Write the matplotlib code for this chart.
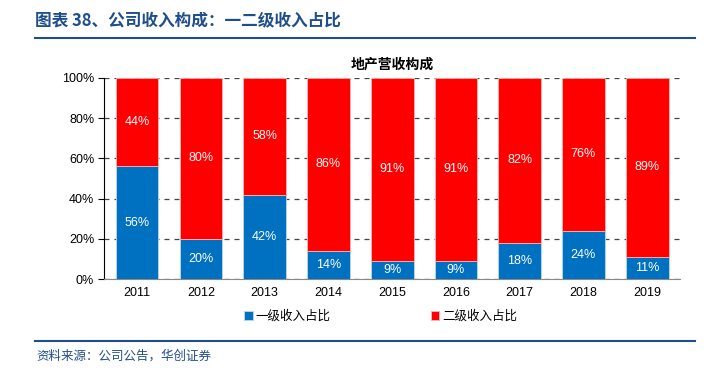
import matplotlib
matplotlib.use("Agg")
import matplotlib.pyplot as plt
import numpy as np

plt.rcParams['font.family'] = ['Liberation Sans', 'Noto Sans CJK SC', 'DejaVu Sans']

years = ['2011', '2012', '2013', '2014', '2015', '2016', '2017', '2018', '2019']
level1 = [56, 20, 42, 14, 9, 9, 18, 24, 11]
level2 = [44, 80, 58, 86, 91, 91, 82, 76, 89]
series_names = ['一级收入占比', '二级收入占比']
blue = '#0070C0'
red = '#FF0000'
navy = '#1F4E8C'

fig = plt.figure(figsize=(7.25, 3.73), dpi=100)
ax = fig.add_axes([0.1434, 0.252, 0.795, 0.539])

x = np.arange(len(years))
w = 0.67
b1 = ax.bar(x, level1, w, color=blue, edgecolor='#BFD7EE', linewidth=0.6, label=series_names[0], zorder=3)
b2 = ax.bar(x, level2, w, bottom=level1, color=red, edgecolor='#F4B6B6', linewidth=0.6, label=series_names[1], zorder=3)

for i in range(len(years)):
    ax.text(x[i], level1[i] / 2, f'{level1[i]}%', ha='center', va='center', color='white', fontsize=9, zorder=4)
    ax.text(x[i], level1[i] + level2[i] / 2, f'{level2[i]}%', ha='center', va='center', color='white', fontsize=9, zorder=4)

ax.set_xlim(-0.52, len(years) - 0.48)
ax.set_ylim(0, 100)
ax.set_yticks(range(0, 101, 20))
ax.set_yticklabels([f'{v}%' for v in range(0, 101, 20)], fontsize=9)
ax.set_xticks(x)
ax.set_xticklabels(years, fontsize=9)
ax.tick_params(axis='x', length=0, pad=6)
ax.tick_params(axis='y', length=4, width=0.8, direction='out', pad=3)
ax.yaxis.grid(True, linestyle=(0, (4, 4)), color='#444444', linewidth=0.9, zorder=0)
for s in ['top', 'right']:
    ax.spines[s].set_visible(False)
ax.spines['left'].set_color('black')
ax.spines['bottom'].set_color('#888888')

ax.set_title('地产营收构成', fontsize=10, fontweight='bold', family=['Noto Sans CJK SC'], pad=7)

leg = fig.legend(handles=[b1, b2], labels=series_names, loc='center', bbox_to_anchor=(0.525, 0.152),
                 ncol=2, frameon=False, handlelength=0.7, handleheight=0.7,
                 handletextpad=0.2, columnspacing=8, prop={'family': ['Noto Sans CJK SC'], 'size': 9})

fig.text(0.048, 0.945, '图表 38、公司收入构成：一二级收入占比', fontsize=12, fontweight='bold',
         color=navy, family=['Noto Sans CJK SC'], va='center')
fig.add_artist(plt.Line2D([0.048, 0.958], [0.898, 0.898], color=navy, linewidth=1.5))
fig.add_artist(plt.Line2D([0.048, 0.958], [0.086, 0.086], color=navy, linewidth=1.5))
fig.text(0.05, 0.045, '资料来源：公司公告，华创证券', fontsize=9, style='italic',
         color=navy, family=['Noto Sans CJK SC'], va='center')

fig.savefig('out.png', dpi=100)
